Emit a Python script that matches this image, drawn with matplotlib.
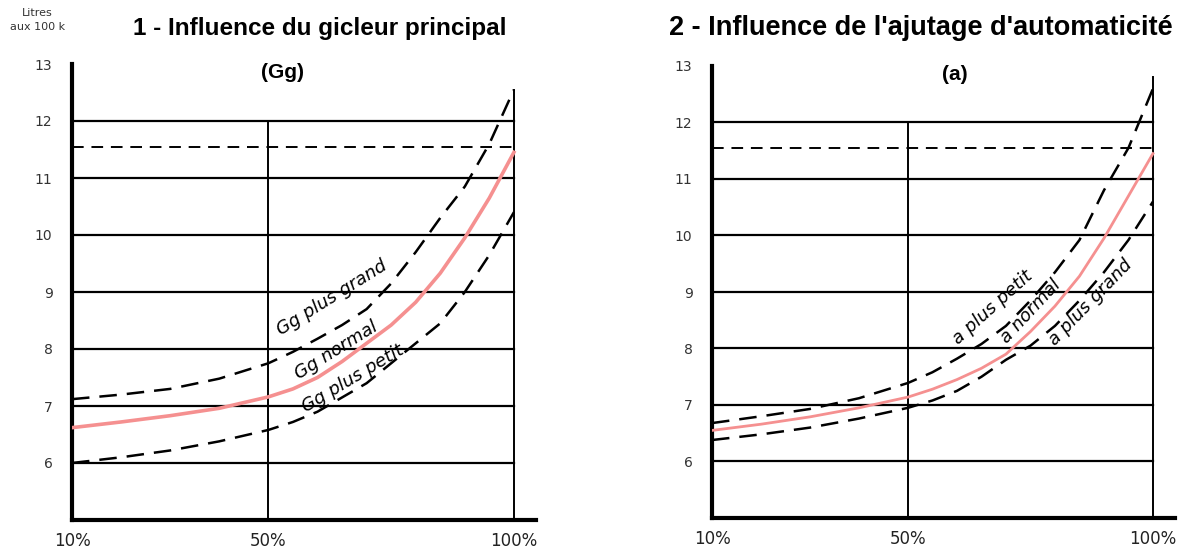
import matplotlib
matplotlib.use("Agg")
import matplotlib.pyplot as plt

# ---- data ----
pct = [10, 20, 30, 40, 50, 55, 60, 65, 70, 75, 80, 85, 90, 95, 100]

# Panel 1 : Influence du gicleur principal (Gg)
gg_grand  = [7.12, 7.20, 7.30, 7.48, 7.75, 7.95, 8.18, 8.42, 8.70, 9.15, 9.70, 10.30, 10.85, 11.60, 12.55]
gg_normal = [6.62, 6.72, 6.83, 6.96, 7.16, 7.30, 7.50, 7.78, 8.10, 8.42, 8.82, 9.33, 9.95, 10.65, 11.45]
gg_petit  = [6.00, 6.10, 6.22, 6.38, 6.58, 6.72, 6.90, 7.15, 7.40, 7.75, 8.10, 8.45, 9.00, 9.65, 10.40]

# Panel 2 : Influence de l'ajutage d'automaticité (a)
a_petit  = [6.68, 6.80, 6.93, 7.12, 7.39, 7.58, 7.82, 8.08, 8.40, 8.85, 9.35, 9.92, 10.80, 11.55, 12.60]
a_normal = [6.55, 6.66, 6.79, 6.95, 7.14, 7.28, 7.45, 7.65, 7.90, 8.30, 8.75, 9.28, 9.95, 10.70, 11.45]
a_grand  = [6.38, 6.48, 6.60, 6.76, 6.95, 7.08, 7.25, 7.50, 7.80, 8.05, 8.40, 8.85, 9.35, 9.92, 10.60]

y_ticks = [6, 7, 8, 9, 10, 11, 12, 13]
x_ticks = [10, 50, 100]
x_tick_labels = ["10%", "50%", "100%"]
ref_level = 11.55

titles = ["1 - Influence du gicleur principal", "2 - Influence de l'ajutage d'automaticité"]
subtitles = ["(Gg)", "(a)"]

PINK = "#f59090"
TITLE_FONT = ["Liberation Sans", "DejaVu Sans"]

fig = plt.figure(figsize=(11.83, 5.54), dpi=100)

axL = fig.add_axes([72/1183, 1-520/554, (536-72)/1183, 456/554])
axR = fig.add_axes([712/1183, 1-518/554, (1175-712)/1183, 452/554])


def setup(ax, vtop):
    ax.set_xlim(10, 104.5)
    ax.set_ylim(5, 13)
    for s in ["top", "right"]:
        ax.spines[s].set_visible(False)
    for s in ["left", "bottom"]:
        ax.spines[s].set_linewidth(3)
        ax.spines[s].set_color("black")
    ax.set_yticks(y_ticks)
    ax.set_yticklabels([str(t) for t in y_ticks], fontsize=10, color="#333333")
    ax.set_xticks(x_ticks)
    ax.set_xticklabels(x_tick_labels, fontsize=12, color="#222222")
    ax.tick_params(axis="y", length=0, pad=14)
    ax.tick_params(axis="x", length=0, pad=9)
    # grid
    for v in range(6, 13):
        ax.plot([10, 100], [v, v], color="black", lw=1.6, zorder=1)
    ax.plot([50, 50], [5, 12], color="black", lw=1.4, zorder=1)
    ax.plot([100, 100], [5, vtop], color="black", lw=1.4, zorder=1)
    ax.plot([10, 100], [ref_level, ref_level], color="black", lw=1.4,
            dashes=(6, 4), zorder=1)


setup(axL, 12.55)
setup(axR, 12.8)

dash = (7, 4)
axL.plot(pct, gg_grand, color="black", lw=1.8, dashes=dash, zorder=3)
axL.plot(pct, gg_petit, color="black", lw=1.8, dashes=dash, zorder=3)
axL.plot(pct, gg_normal, color=PINK, lw=2.6, zorder=4)

axR.plot(pct, a_petit, color="black", lw=1.8, dashes=dash, zorder=3)
axR.plot(pct, a_grand, color="black", lw=1.8, dashes=dash, zorder=3)
axR.plot(pct, a_normal, color=PINK, lw=2.0, zorder=4)

lab = dict(fontsize=13, fontstyle="italic", color="black", ha="center",
           va="center", family=["DejaVu Sans"], zorder=5)
axL.text(63.0, 8.90, "Gg plus grand", rotation=32, **lab)
axL.text(63.8, 7.98, "Gg normal", rotation=32, **lab)
axL.text(67.3, 7.49, "Gg plus petit", rotation=31, **lab)

axR.text(67.3, 8.73, "a plus petit", rotation=42, **lab)
axR.text(75.0, 8.65, "a normal", rotation=47, **lab)
axR.text(87.3, 8.82, "a plus grand", rotation=46, **lab)

# titles
fig.text(320/1183, 1-28/554, titles[0], fontsize=17.5, fontweight="bold",
         ha="center", va="center", family=TITLE_FONT)
fig.text(921/1183, 1-28/554, titles[1], fontsize=19.5, fontweight="bold",
         ha="center", va="center", family=TITLE_FONT)
fig.text(283/1183, 1-72/554, subtitles[0], fontsize=15, fontweight="bold",
         ha="center", va="center", family=TITLE_FONT)
fig.text(955/1183, 1-75/554, subtitles[1], fontsize=15, fontweight="bold",
         ha="center", va="center", family=TITLE_FONT)

fig.text(37/1183, 1-13/554, "Litres", fontsize=8, ha="center", va="center",
         color="#333333")
fig.text(38/1183, 1-27/554, "aux 100 k", fontsize=8, ha="center", va="center",
         color="#333333")

fig.savefig("out.png", dpi=100)
